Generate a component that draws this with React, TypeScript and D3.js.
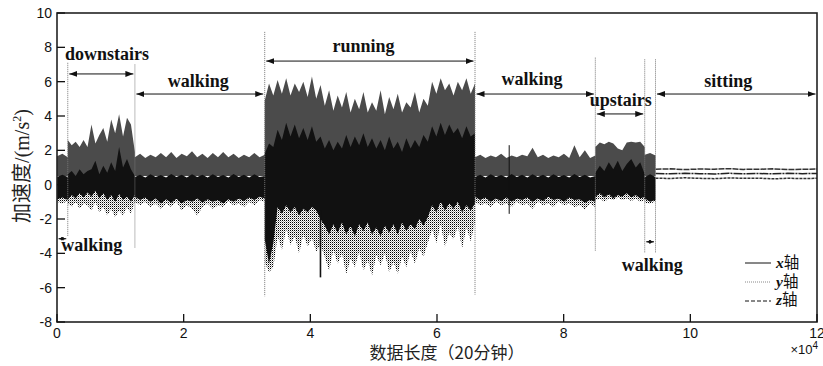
import React from "react";
import * as d3 from "d3";

const W = 823;
const H = 366;

const xTicks = [0, 2, 4, 6, 8, 10, 12];
const yTicks = [-8, -6, -4, -2, 0, 2, 4, 6, 8, 10];

// activity segments (units: 1e4 samples)
const segStart = [0, 0.17, 1.23, 3.28, 6.6, 8.5, 9.28, 9.45];
const segEnd = [0.17, 1.23, 3.28, 6.6, 8.5, 9.28, 9.45, 12];

// z axis (dashed, grey band) upper envelope per segment
const zTop: number[][] = [
  [1.65, 1.8, 1.6],
  [2.6, 2.3, 2.5, 2.2, 2.6, 2.2, 3.5, 2.4, 2.9, 3.3, 2.5, 3.8, 3.0, 4.1, 2.8, 3.9, 3.5, 1.9],
  [1.6, 1.8, 1.55, 1.75, 1.6, 1.85, 1.6, 1.9, 1.55, 1.8, 1.65, 1.95, 1.6, 1.8, 1.55, 1.85, 1.6, 1.9, 1.6, 1.8, 1.55, 1.75, 1.6, 1.85, 1.6, 1.75],
  [4.9, 5.9, 5.2, 6.1, 5.3, 6.2, 5.2, 5.9, 5.4, 6.0, 5.1, 6.3, 5.0, 5.8, 4.6, 5.5, 4.3, 5.2, 4.5, 5.4,
   4.2, 5.0, 4.4, 5.4, 4.2, 4.8, 4.3, 5.5, 4.1, 5.1, 4.4, 5.3, 4.2, 4.8, 4.5, 5.4, 4.2, 5.0, 4.6, 6.0,
   5.3, 6.2, 5.5, 5.9, 5.2, 6.0, 5.5, 6.2, 5.3, 5.9],
  [1.6, 1.75, 1.55, 1.7, 1.6, 1.8, 1.55, 1.7, 1.6, 1.75, 1.65, 2.15, 1.6, 1.75, 1.55, 1.7, 1.6, 1.8, 1.55, 2.3, 1.6, 2.0, 1.55, 1.7],
  [2.2, 2.45, 2.35, 2.5, 2.4, 2.1, 2.0, 2.45, 2.5, 2.45, 2.5, 2.2],
  [1.75, 1.85, 1.7],
];
const zBase = [0.5, 0.5, 0.5, 0, 0.5, 0.5, 0.5];

// x axis (solid, black band)
const xTop: number[][] = [
  [0.45, 0.58, 0.44],
  [0.6, 0.8, 0.5, 0.9, 0.6, 0.8, 0.9, 1.4, 0.6, 1.1, 0.7, 1.3, 0.8, 2.2, 1.0, 1.5, 0.9, 0.5],
  [0.44, 0.58, 0.42, 0.6, 0.44, 0.57, 0.42, 0.62, 0.44, 0.58, 0.42, 0.6, 0.44, 0.58, 0.42, 0.6, 0.44, 0.57, 0.42, 0.62, 0.44, 0.58, 0.42, 0.6, 0.44, 0.5],
  [1.8, 2.4, 2.2, 3.2, 2.6, 3.6, 2.8, 3.5, 2.7, 3.3, 2.6, 3.4, 2.5, 2.8, 2.1, 2.6, 2.0, 2.5, 2.1, 2.9,
   2.2, 2.8, 2.3, 3.0, 2.2, 2.7, 2.1, 2.6, 2.0, 2.8, 2.1, 2.5, 1.9, 2.7, 2.1, 2.6, 2.2, 2.9, 2.5, 3.4,
   2.8, 3.6, 2.9, 3.5, 3.0, 3.3, 2.7, 3.4, 2.8, 3.0],
  [0.44, 0.58, 0.42, 0.6, 0.44, 0.57, 0.42, 0.62, 0.44, 0.58, 0.42, 0.6, 0.44, 0.58, 0.42, 0.6, 0.44, 0.57, 0.42, 0.62, 0.44, 0.58, 0.42, 0.5],
  [0.7, 1.1, 0.8, 1.3, 0.9, 1.4, 0.8, 1.2, 1.5, 1.0, 1.3, 0.6],
  [0.45, 0.6, 0.45],
];
const xBottom: number[][] = [
  [-0.85, -0.75, -0.9],
  [-0.9, -0.6, -0.8, -0.5, -0.75, -0.45, -0.7, -0.35, -0.8, -0.5, -0.9, -0.6, -1.0, -0.55, -0.9, -0.7, -1.0, -0.6],
  [-0.7, -0.9, -0.75, -1.0, -0.8, -1.1, -0.85, -1.05, -0.8, -1.1, -0.9, -1.0, -0.8, -1.05, -0.85, -1.0, -0.9, -1.1, -0.85, -1.0, -0.8, -0.95, -0.75, -0.9, -0.7, -0.8],
  [-3.2, -4.6, -3.4,
   -1.3, -1.7, -1.2, -1.6, -1.3, -1.8, -1.4, -1.6, -1.3, -1.5,
   -2.0,
   -2.4, -2.9, -2.3, -2.8, -2.2, -2.9, -2.4, -3.0, -2.3, -2.7, -2.2, -2.9, -2.5, -3.0, -2.4, -2.8, -2.3, -2.9, -2.2, -2.7, -2.3, -2.6, -2.0, -2.4, -1.9,
   -1.2, -1.6, -1.0, -1.5, -1.1, -1.4, -1.0, -1.6, -1.2, -1.5, -1.1],
  [-0.7, -0.9, -0.75, -1.0, -0.8, -0.95, -0.75, -1.0, -0.8, -0.9, -0.75, -1.0, -0.8, -0.95, -0.7, -0.9, -0.8, -1.0, -0.75, -0.9, -0.85, -1.05, -0.9, -1.0],
  [-0.7, -0.5, -0.75, -0.55, -0.8, -0.6, -0.7, -0.5, -0.75, -0.6, -0.8, -0.7],
  [-0.8, -1.0, -0.9],
];
// y axis (dotted) lower envelope
const yBottom: number[][] = [
  [-1.0, -1.1, -0.95],
  [-1.1, -1.3, -1.0, -1.4, -1.1, -1.2, -1.5, -1.0, -1.6, -1.3, -1.8, -1.4, -1.9, -1.5, -1.8, -1.3, -1.7, -1.0],
  [-1.0, -1.2, -1.0, -1.3, -1.1, -1.4, -1.1, -1.3, -1.0, -1.5, -1.2, -1.4, -1.8, -1.3, -1.1, -1.4, -1.2, -1.3, -1.0, -1.2, -1.1, -1.3, -1.0, -1.2, -0.9, -1.0],
  [-4.5, -5.1, -4.8,
   -3.0, -3.8, -2.6, -3.5, -3.0, -4.0, -2.9, -3.6, -3.1, -3.9,
   -3.5,
   -4.2, -5.0, -3.8, -4.6, -4.0, -5.2, -4.3, -4.8, -3.9, -5.0, -4.4, -5.3, -4.1, -4.7, -4.0, -5.1, -4.5, -5.2, -4.2, -4.8, -3.9, -4.6, -3.7, -4.2, -3.4,
   -2.6, -3.4, -2.3, -3.6, -2.8, -3.2, -2.4, -3.7, -2.5, -3.3, -2.2],
  [-1.0, -1.2, -1.1, -1.3, -1.0, -1.2, -1.1, -1.3, -1.0, -1.2, -1.1, -1.4, -1.0, -1.2, -1.1, -1.3, -1.0, -1.2, -1.1, -1.3, -1.2, -1.45, -1.1, -1.3],
  [-0.9, -0.8, -1.0, -0.8, -0.9, -0.75, -0.9, -0.8, -0.95, -0.8, -1.0, -0.9],
  [-1.05, -1.1, -1.0],
];

// isolated spikes of the x series
const spikeU = [7.14, 4.16];
const spikeHi = [2.3, -1.5];
const spikeLo = [-1.7, -5.4];

// sitting: three near-constant traces
const sitZ = [0.9, 0.92, 0.88, 0.91, 0.9, 0.93, 0.89, 0.9, 0.92, 0.88, 0.9, 0.91];
const sitX = [0.65, 0.63, 0.66, 0.64, 0.62, 0.66, 0.64, 0.65, 0.63, 0.66, 0.64, 0.65];
const sitY = [0.38, 0.36, 0.4, 0.37, 0.35, 0.39, 0.37, 0.38, 0.34, 0.37, 0.36, 0.37];

// boundary marker extents (value units), for boundaries 1..7
const boundTop = [7.1, 7.0, 8.9, 8.9, 7.4, 7.3, 7.3];
const boundBottom = [-3.0, -3.7, -6.5, -6.4, -3.9, -4.0, -4.0];

// annotations
const labelText = ["downstairs", "walking", "running", "walking", "upstairs", "sitting", "walking", "walking"];
const labelU = [0.79, 2.23, 4.84, 7.5, 8.9, 10.6, 0.55, 9.4];
const labelV = [7.29, 5.67, 7.75, 5.8, 4.58, 5.71, -3.86, -5.03];
const arrowFrom = [0.17, 1.23, 3.28, 6.6, 8.5, 9.45, 0, 9.28];
const arrowTo = [1.23, 3.28, 6.6, 8.5, 9.28, 12, 0.17, 9.45];
const arrowV = [6.45, 5.28, 7.2, 5.28, 4.12, 5.28, -3.15, -3.33];

type P = { u: number; hi: number; lo: number };

function band(top: number[][], bottom: (number[] | number)[]): P[] {
  const pts: P[] = [];
  top.forEach((arr, i) => {
    const s = segStart[i];
    const e = segEnd[i];
    const n = arr.length;
    const b = bottom[i];
    arr.forEach((v, j) => {
      pts.push({ u: s + (j * (e - s)) / (n - 1), hi: v, lo: Array.isArray(b) ? b[j] : b });
    });
  });
  return pts;
}

export default function App() {
  const x = d3.scaleLinear().domain([0, 12]).range([57, 817]);
  const y = d3.scaleLinear().domain([-8, 10]).range([322, 13]);

  const area = d3
    .area<P>()
    .x((d) => x(d.u))
    .y0((d) => y(d.lo))
    .y1((d) => y(d.hi));

  const zPts = band(zTop, zBase);
  const xPts = band(xTop, xBottom);
  const yPts = band(yBottom, yBottom.map(() => 0));

  const sitLine = (vals: number[]) =>
    d3
      .line<number>()
      .x((_, j) => x(segStart[7] + (j * (segEnd[7] - segStart[7])) / (vals.length - 1)))
      .y((v) => y(v))(vals) || "";

  const serif = "'Liberation Serif', 'Times New Roman', serif";
  const sans = "'Liberation Sans', Arial, sans-serif";
  const cjk = "'Noto Sans CJK SC', sans-serif";

  return (
    <svg width={W} height={H} style={{ position: "absolute", left: 0, top: 0, background: "#fff" }}>
      <defs>
        <pattern id="dots" width="2" height="2" patternUnits="userSpaceOnUse">
          <rect width="1" height="1" fill="#000" />
          <rect x="1" y="1" width="1" height="1" fill="#000" opacity="0.35" />
        </pattern>
        <marker id="ah" viewBox="0 0 8 6" refX="8" refY="3" markerWidth="8" markerHeight="6" markerUnits="userSpaceOnUse" orient="auto-start-reverse">
          <path d="M0,0 L8,3 L0,6 z" fill="#111" />
        </marker>
        <marker id="ahs" viewBox="0 0 8 6" refX="8" refY="3" markerWidth="5" markerHeight="4" markerUnits="userSpaceOnUse" orient="auto-start-reverse">
          <path d="M0,0 L8,3 L0,6 z" fill="#111" />
        </marker>
      </defs>
      <rect x={0} y={0} width={W} height={H} fill="#fff" />

      {/* data */}
      <path d={area(zPts) || ""} fill="#4b4b4b" />
      <path d={area(yPts) || ""} fill="url(#dots)" />
      <path d={area(xPts) || ""} fill="#111" />
      {spikeU.map((u, i) => (
        <line key={"sp" + i} x1={x(u)} x2={x(u)} y1={y(spikeHi[i])} y2={y(spikeLo[i])} stroke="#111" strokeWidth={i === 0 ? 1 : 1.6} />
      ))}
      <path d={sitLine(sitZ)} fill="none" stroke="#333" strokeWidth={1.5} strokeDasharray="6,1" />
      <path d={sitLine(sitX)} fill="none" stroke="#222" strokeWidth={1.5} strokeDasharray="9,1,2,1" />
      <path d={sitLine(sitY)} fill="none" stroke="#333" strokeWidth={1.5} strokeDasharray="3,1" />

      {/* boundaries */}
      {boundTop.map((t, i) => (
        <line key={"b" + i} x1={x(segStart[i + 1])} x2={x(segStart[i + 1])} y1={y(t)} y2={y(boundBottom[i])} stroke="#777" strokeWidth={1} strokeDasharray="1,1" />
      ))}

      {/* annotations */}
      {labelText.map((t, i) => {
        const small = arrowTo[i] - arrowFrom[i] < 0.3;
        return (
          <g key={"a" + i}>
            <line
              x1={x(arrowFrom[i]) + 1.5}
              x2={x(arrowTo[i]) - 1.5}
              y1={y(arrowV[i])}
              y2={y(arrowV[i])}
              stroke="#111"
              strokeWidth={1}
              markerStart={small ? "url(#ahs)" : "url(#ah)"}
              markerEnd={small ? "url(#ahs)" : "url(#ah)"}
            />
            <text x={x(labelU[i])} y={y(labelV[i])} textAnchor="middle" fontFamily={serif} fontWeight="bold" fontSize={18} fill="#111">
              {t}
            </text>
          </g>
        );
      })}

      {/* frame */}
      <rect x={57} y={13} width={760} height={309} fill="none" stroke="#222" strokeWidth={1.6} />

      {/* ticks */}
      {yTicks.map((t) => (
        <g key={"yt" + t}>
          <line x1={57} x2={65} y1={y(t)} y2={y(t)} stroke="#111" strokeWidth={1.3} />
          <text x={52} y={y(t) + 5} textAnchor="end" fontFamily={sans} fontSize={14} fill="#111">
            {t}
          </text>
        </g>
      ))}
      {xTicks.map((t) => (
        <g key={"xt" + t}>
          <line x1={x(t)} x2={x(t)} y1={322} y2={314} stroke="#111" strokeWidth={1.3} />
          <text x={x(t)} y={338} textAnchor="middle" fontFamily={sans} fontSize={14} fill="#111">
            {t}
          </text>
        </g>
      ))}
      <text x={818} y={354} textAnchor="end" fontFamily={sans} fontSize={13} fill="#111">
        ×10
        <tspan fontSize={10} dy={-5}>4</tspan>
      </text>

      {/* axis titles */}
      <text x={447} y={359} textAnchor="middle" fontFamily={cjk} fontSize={17} fill="#222">
        数据长度（20分钟）
      </text>
      <text transform="translate(29,166) rotate(-90)" textAnchor="middle" fontSize={20} fill="#222">
        <tspan fontFamily={cjk}>加速度</tspan>
        <tspan fontFamily={serif}>/(m/s</tspan>
        <tspan fontFamily={serif} fontSize={12} dy={-8}>2</tspan>
        <tspan fontFamily={serif} dy={8}>)</tspan>
      </text>

      {/* legend */}
      <line x1={745} x2={771} y1={263} y2={263} stroke="#111" strokeWidth={1} />
      <line x1={745} x2={771} y1={282} y2={282} stroke="#888" strokeWidth={1} strokeDasharray="1,1" />
      <line x1={745} x2={771} y1={301} y2={301} stroke="#111" strokeWidth={1} strokeDasharray="4,2" />
      {["x", "y", "z"].map((s, i) => (
        <text key={"lg" + s} x={776} y={268 + i * 18.5} fontSize={15.5} fill="#111">
          <tspan fontFamily={serif} fontStyle="italic" fontWeight="bold">{s}</tspan>
          <tspan fontFamily={cjk}>轴</tspan>
        </text>
      ))}
    </svg>
  );
}
